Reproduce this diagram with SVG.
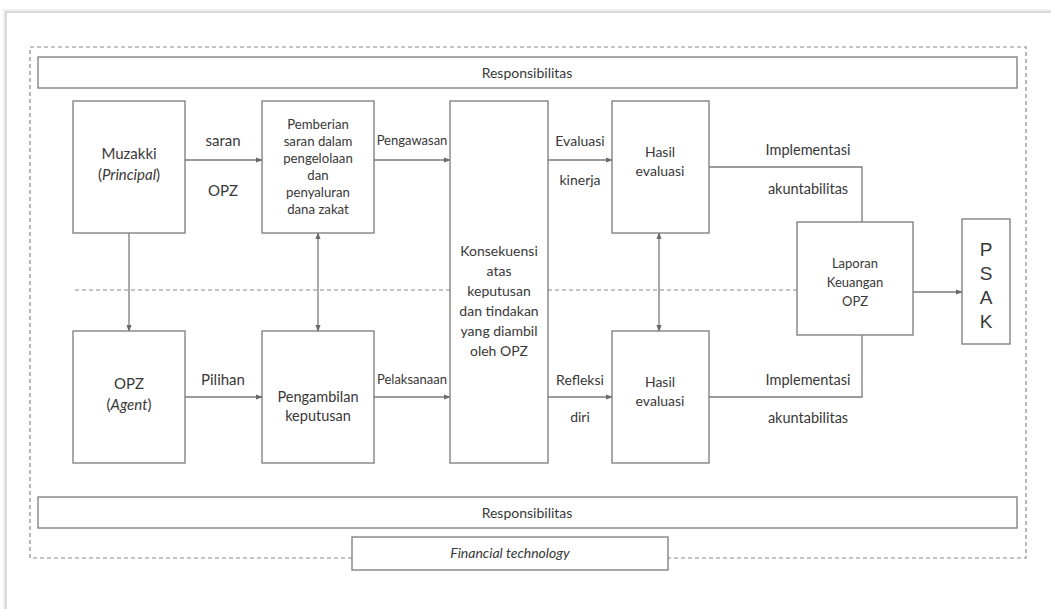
<svg xmlns="http://www.w3.org/2000/svg" width="1051" height="609" viewBox="0 0 1051 609">
<defs>
<style>
.box{fill:#fff;stroke:#7a7a7a;stroke-width:1.3}
.ln{fill:none;stroke:#7a7a7a;stroke-width:1.3}
.dash{fill:none;stroke:#8a8a8a;stroke-width:1.2;stroke-dasharray:4 3}
text{font-family:Lato,"Open Sans",sans-serif;fill:#383838;text-anchor:middle}
.r{font-size:14px}
.a{font-size:15px}
.b{font-size:13.2px}
.c{font-size:13px}
.d{font-size:14px}
.e{font-size:14.5px}
.p{font-family:"Liberation Sans",Arial,sans-serif;font-size:19px}
</style>
<marker id="ah" viewBox="0 0 8 8" refX="7" refY="4" markerWidth="7" markerHeight="7" orient="auto-start-reverse" markerUnits="userSpaceOnUse">
<path d="M0,1 L8,4 L0,7 z" fill="#6a6a6a"/>
</marker>
</defs>
<rect width="1051" height="609" fill="#fff"/>
<path d="M6,609 L6,12 L1051,12" fill="none" stroke="#d8d8d8" stroke-width="2"/>
<path d="M4,609 L4,10 L1051,10" fill="none" stroke="#efefef" stroke-width="2"/>

<g id="frame">
<path class="dash" d="M352,558 L30,558 L30,47 L1026,47 L1026,558 L668,558"/>
</g>

<g id="connectors">
<path class="dash" d="M75,290 L450,290 M548,290 L797,290"/>
<line class="ln" x1="185" y1="160" x2="262" y2="160" marker-end="url(#ah)"/>
<line class="ln" x1="374" y1="160" x2="450" y2="160" marker-end="url(#ah)"/>
<line class="ln" x1="548" y1="160" x2="612" y2="160" marker-end="url(#ah)"/>
<path class="ln" d="M709,167 L862,167 L862,222"/>
<line class="ln" x1="129" y1="233" x2="129" y2="331" marker-end="url(#ah)"/>
<line class="ln" x1="318" y1="233" x2="318" y2="331" marker-start="url(#ah)" marker-end="url(#ah)"/>
<line class="ln" x1="659" y1="233" x2="659" y2="331" marker-start="url(#ah)" marker-end="url(#ah)"/>
<line class="ln" x1="185" y1="397" x2="262" y2="397" marker-end="url(#ah)"/>
<line class="ln" x1="374" y1="397" x2="450" y2="397" marker-end="url(#ah)"/>
<line class="ln" x1="548" y1="397" x2="612" y2="397" marker-end="url(#ah)"/>
<path class="ln" d="M709,397 L862,397 L862,335"/>
<line class="ln" x1="913" y1="292" x2="962" y2="292" marker-end="url(#ah)"/>
<text class="a" x="223" y="146">saran</text>
<text class="a" x="223" y="196">OPZ</text>
<text class="c" x="412" y="145">Pengawasan</text>
<text class="d" x="580" y="146">Evaluasi</text>
<text class="d" x="580" y="185">kinerja</text>
<text class="e" x="808" y="155">Implementasi</text>
<text class="e" x="808" y="194">akuntabilitas</text>
<text class="a" x="223" y="385">Pilihan</text>
<text class="c" x="412" y="384">Pelaksanaan</text>
<text class="d" x="580" y="385">Refleksi</text>
<text class="d" x="580" y="422">diri</text>
<text class="e" x="808" y="385">Implementasi</text>
<text class="e" x="808" y="423">akuntabilitas</text>
</g>

<g id="resp-top">
<rect class="box" x="38" y="57" width="979" height="31"/>
<text class="r" x="527" y="78">Responsibilitas</text>
</g>
<g id="muzakki">
<rect class="box" x="73" y="101" width="112" height="132"/>
<text class="a" x="129" y="159">Muzakki</text>
<text class="a" x="129" y="180">(<tspan font-style="italic">Principal</tspan>)</text>
</g>
<g id="pemberian">
<rect class="box" x="262" y="101" width="112" height="132"/>
<text class="b" x="318" y="129">Pemberian</text>
<text class="b" x="318" y="146">saran dalam</text>
<text class="b" x="318" y="163">pengelolaan</text>
<text class="b" x="318" y="180">dan</text>
<text class="b" x="318" y="197">penyaluran</text>
<text class="b" x="318" y="214">dana zakat</text>
</g>
<g id="konsekuensi">
<rect class="box" x="450" y="101" width="98" height="362"/>
<text class="d" x="499" y="256">Konsekuensi</text>
<text class="d" x="499" y="276">atas</text>
<text class="d" x="499" y="296">keputusan</text>
<text class="d" x="499" y="316">dan tindakan</text>
<text class="d" x="499" y="336">yang diambil</text>
<text class="d" x="499" y="356">oleh OPZ</text>
</g>
<g id="hasil-top">
<rect class="box" x="612" y="101" width="97" height="132"/>
<text class="d" x="660" y="157">Hasil</text>
<text class="d" x="660" y="176">evaluasi</text>
</g>
<g id="laporan">
<rect class="box" x="797" y="222" width="116" height="113"/>
<text class="c" x="855" y="268">Laporan</text>
<text class="c" x="855" y="287">Keuangan</text>
<text class="c" x="855" y="306">OPZ</text>
</g>
<g id="psak">
<rect class="box" x="962" y="219" width="48" height="125"/>
<text class="p" x="986" y="256">P</text>
<text class="p" x="986" y="280">S</text>
<text class="p" x="986" y="304">A</text>
<text class="p" x="986" y="328">K</text>
</g>
<g id="opz">
<rect class="box" x="73" y="331" width="112" height="132"/>
<text class="a" x="129" y="389">OPZ</text>
<text class="a" x="129" y="410">(<tspan font-style="italic">Agent</tspan>)</text>
</g>
<g id="pengambilan">
<rect class="box" x="262" y="331" width="112" height="132"/>
<text class="e" x="318" y="402">Pengambilan</text>
<text class="e" x="318" y="421">keputusan</text>
</g>
<g id="hasil-bottom">
<rect class="box" x="612" y="331" width="97" height="132"/>
<text class="d" x="660" y="387">Hasil</text>
<text class="d" x="660" y="406">evaluasi</text>
</g>
<g id="resp-bottom">
<rect class="box" x="38" y="497" width="979" height="31"/>
<text class="r" x="527" y="518">Responsibilitas</text>
</g>
<g id="fintech">
<rect class="box" x="352" y="537" width="316" height="33"/>
<text class="r" x="510" y="558" font-style="italic">Financial technology</text>
</g>
</svg>
